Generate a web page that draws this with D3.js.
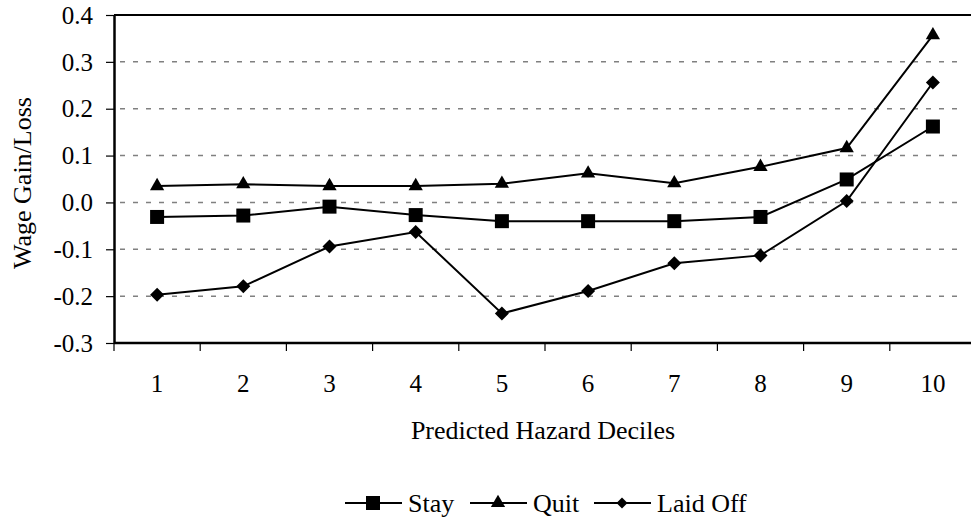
<!DOCTYPE html>
<html>
<head>
<meta charset="utf-8">
<script src="https://cdn.jsdelivr.net/npm/d3@7"></script>
<style>
  body { margin: 0; background: #fff; }
  svg { display: block; font-family: "Liberation Serif", "Times New Roman", serif; }
</style>
</head>
<body>
<div class="canvas"></div>
<script>
const deciles = ['1', '2', '3', '4', '5', '6', '7', '8', '9', '10'];
const stay = [-0.031, -0.028, -0.009, -0.027, -0.040, -0.040, -0.040, -0.031, 0.049, 0.162];
const quit = [0.035, 0.039, 0.035, 0.035, 0.040, 0.062, 0.041, 0.076, 0.116, 0.357];
const laidOff = [-0.197, -0.179, -0.094, -0.063, -0.237, -0.189, -0.130, -0.113, 0.003, 0.256];
const yTicks = [-0.3, -0.2, -0.1, 0.0, 0.1, 0.2, 0.3, 0.4];

const series = [
  { name: 'Stay', values: stay, shape: 'square' },
  { name: 'Quit', values: quit, shape: 'triangle' },
  { name: 'Laid Off', values: laidOff, shape: 'diamond' }
];

// markers: diamond is a square turned 45 degrees
const marker = (shape, s) => {
  if (shape === 'square') return { d: d3.symbol().type(d3.symbolSquare).size(s * s)(), rot: 0 };
  if (shape === 'triangle') return { d: d3.symbol().type(d3.symbolTriangle).size(s * s * 0.45)(), rot: 0 };
  return { d: d3.symbol().type(d3.symbolSquare).size(s * s / 2)(), rot: 45 };
};

const svg = d3.select('.canvas')
  .append('svg')
  .attr('width', 971)
  .attr('height', 525);

const marginLeft = 114, marginTop = 15, plotW = 862, plotH = 328;

const x = d3.scaleBand()
  .domain(deciles)
  .range([0, plotW]);

const y = d3.scaleLinear()
  .domain([-0.3, 0.4])
  .range([plotH, 0]);

const graph = svg.append('g')
  .attr('transform', `translate(${marginLeft}, ${marginTop})`);

// dashed grid
graph.selectAll('.grid')
  .data(yTicks.filter(d => d > -0.3 && d < 0.4))
  .enter()
  .append('line')
  .attr('x1', 0)
  .attr('x2', plotW - 18)
  .attr('y1', d => y(d))
  .attr('y2', d => y(d))
  .attr('stroke', '#808080')
  .attr('stroke-width', 1.5)
  .attr('stroke-dasharray', '5,8')
  .attr('stroke-dashoffset', -19);

// top border
graph.append('line')
  .attr('x1', 0).attr('x2', plotW)
  .attr('y1', 0).attr('y2', 0)
  .attr('stroke', '#000')
  .attr('stroke-width', 2);

// y axis
const fmt = d => d3.format('.1f')(d).replace('\u2212', '-');
const yAxis = graph.append('g')
  .call(d3.axisLeft(y).tickValues(yTicks).tickFormat(fmt).tickSize(8).tickSizeOuter(0));
yAxis.select('.domain').attr('stroke-width', 2.5);
yAxis.selectAll('.tick line').attr('stroke-width', 1.2);
yAxis.selectAll('text')
  .attr('x', -21)
  .attr('dy', '0.33em')
  .style('font-size', '25px')
  .style('font-family', '"Liberation Serif", serif')
  .attr('fill', '#000');

// x axis, ticks on band edges
const xAxis = graph.append('g')
  .attr('transform', `translate(0, ${plotH})`);
xAxis.append('line')
  .attr('x1', 0).attr('x2', plotW)
  .attr('stroke', '#000')
  .attr('stroke-width', 2.5);
xAxis.selectAll('.xtick')
  .data(deciles)
  .enter()
  .append('line')
  .attr('x1', d => x(d)).attr('x2', d => x(d))
  .attr('y1', 0).attr('y2', 8)
  .attr('stroke', '#000')
  .attr('stroke-width', 1.2);
xAxis.selectAll('.xlabel')
  .data(deciles)
  .enter()
  .append('text')
  .attr('x', d => x(d) + x.bandwidth() / 2)
  .attr('y', 49)
  .attr('text-anchor', 'middle')
  .style('font-size', '25px')
  .text(d => d);

// lines and markers
const line = d3.line()
  .x((d, i) => x(deciles[i]) + x.bandwidth() / 2)
  .y(d => y(d));

series.forEach(s => {
  graph.append('path')
    .datum(s.values)
    .attr('d', line)
    .attr('fill', 'none')
    .attr('stroke', '#000')
    .attr('stroke-width', 2);

  const m = marker(s.shape, 14);
  graph.selectAll(null)
    .data(s.values)
    .enter()
    .append('path')
    .attr('transform', (d, i) => `translate(${x(deciles[i]) + x.bandwidth() / 2}, ${y(d)}) rotate(${m.rot})`)
    .attr('d', m.d)
    .attr('fill', '#000');
});

// axis titles
svg.append('text')
  .attr('transform', 'translate(31, 183) rotate(-90)')
  .attr('text-anchor', 'middle')
  .style('font-size', '26px')
  .text('Wage Gain/Loss');

svg.append('text')
  .attr('x', 543)
  .attr('y', 439)
  .attr('text-anchor', 'middle')
  .style('font-size', '26px')
  .text('Predicted Hazard Deciles');

// legend
const legendX = [345, 470, 594];
const legend = svg.selectAll('.legend')
  .data(series)
  .enter()
  .append('g')
  .attr('transform', (d, i) => `translate(${legendX[i]}, 503)`);

legend.append('line')
  .attr('x1', 0).attr('x2', 57)
  .attr('stroke', '#000')
  .attr('stroke-width', 2);

legend.append('path')
  .attr('transform', d => `translate(28, 0) rotate(${marker(d.shape, 13).rot})`)
  .attr('d', d => marker(d.shape, d.shape === 'diamond' ? 11 : 14).d)
  .attr('fill', '#000');

legend.append('text')
  .attr('x', 63)
  .attr('y', 9)
  .style('font-size', '26px')
  .text(d => d.name);
</script>
</body>
</html>
